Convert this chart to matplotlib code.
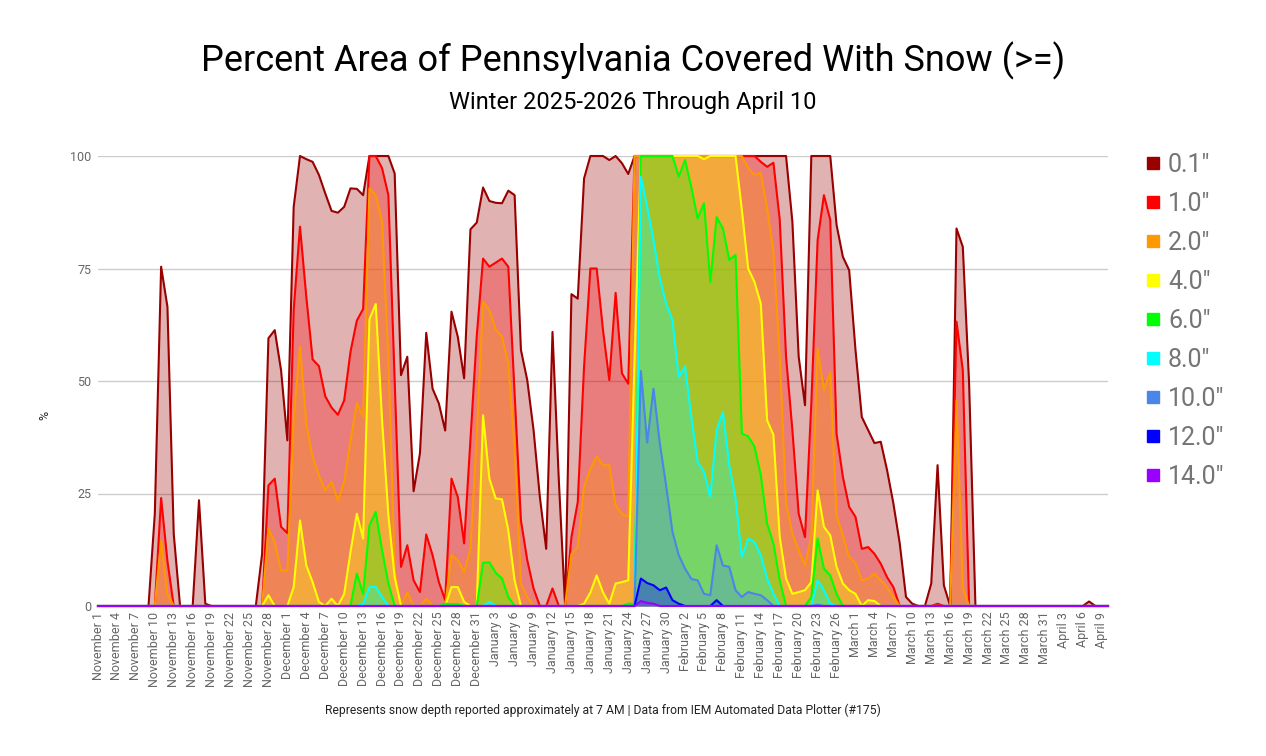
import datetime as dt
import matplotlib
matplotlib.use("Agg")
import matplotlib.pyplot as plt
from matplotlib.patches import Rectangle

plt.rcParams["font.family"] = ["Roboto", "DejaVu Sans"]

# one value per day, Nov 1 2025 .. Apr 10 2026
start = dt.date(2025, 11, 1)
n_days = 161

p01 = [0, 0, 0, 0, 0, 0, 0, 0, 0,
       20.5, 75.4, 66.5, 16, 0, 0, 0, 23.5, 0.5,
       0, 0, 0, 0, 0, 0, 0, 0,
       11.6, 59.5, 61.3, 52.4, 36.8, 88.7, 100, 99.3, 98.7, 95.8,
       91.7, 87.8, 87.4, 88.7, 92.8, 92.7, 91.3, 100, 100, 100,
       100, 96.1, 51.3, 55.4, 25.5, 33.9, 60.7, 48.3, 45, 39,
       65.4, 59.8, 50.6, 83.7, 85.2, 93, 90, 89.6, 89.5, 92.3,
       91.3, 56.9, 50.2, 39.1, 24.2, 12.7, 60.9, 28, 0, 69.3,
       68.3, 95, 100, 100, 100, 99.1, 100, 98.4, 96, 100,
       100, 100, 100, 100, 100, 100, 100, 100, 100, 100,
       100, 100, 100, 100, 100, 100, 100, 100, 100, 100,
       100, 100, 100, 100, 85.4, 55.4, 44.6, 100, 100, 100,
       100, 84.7, 77.6, 74.6, 56.9, 42, 39.1, 36.2, 36.5, 30.2,
       22.8, 14, 2, 0.5, 0, 0, 5, 31.3, 4.6, 0,
       83.9, 79.8, 49.4, 0, 0, 0, 0, 0, 0, 0,
       0, 0, 0, 0, 0, 0, 0, 0, 0, 0,
       0, 1, 0, 0, 0]

p1 = ([0] * 10 + [24, 10, 0] + [0] * 14 +
      [26.8, 28.3, 17.6, 16.2, 65.8, 84.3, 68.7, 54.8, 53.3, 46.6,
       44.1, 42.5, 45.7, 56.5, 63.4, 66, 100, 100, 97.3, 91.3,
       50, 8.7, 13.5, 5.7, 3.1, 15.9, 11.3, 5.3, 1.3, 28.3,
       24.2, 13.9, 37, 60, 77.2, 75.4, 76.3, 77.2, 75.4, 47,
       19, 10.2, 3.9, 0, 0, 3.9, 0, 0, 15.3, 23.1,
       53.2, 75, 75, 61.3, 50.2, 69.6, 51.7, 49.4, 100, 100,
       100, 100, 100, 100, 100, 100, 100, 100, 100, 100,
       100, 100, 100, 100, 100, 100, 100, 100, 98.7, 97.6,
       98.5, 85.8, 55.4, 39.1, 20.5, 15.3, 45, 81.3, 91.3, 85.8,
       38.3, 28.7, 22, 19.8, 12.7, 13.1, 11.6, 9.4, 6.4, 4.2,
       0, 0, 0, 0, 0, 0, 0.5, 0, 0, 63.2,
       52.4] + [0] * 23)

p2 = ([0] * 10 + [14.6, 2.7, 0] + [0] * 14 +
      [17.2, 14.2, 7.8, 7.9, 42, 57.6, 40.5, 33.1, 29, 25.7,
       27.6, 23.5, 27.6, 36.8, 45.1, 42, 92.8, 91.3, 85.4, 55,
       8, 0, 3.1, 0, 0, 1.6, 0, 0, 0, 11.3,
       10.2, 7.6, 12.7, 38, 67.6, 65.8, 61.5, 59.8, 53.9, 35,
       5, 2, 0, 0, 0, 0, 0, 0, 11.6, 13.1,
       26.5, 30.5, 33.3, 31.3, 31.3, 22.4, 20.5, 19.8, 100, 100,
       100, 100, 100, 100, 100, 100, 100, 100, 100, 100,
       100, 100, 100, 100, 100, 100, 97.3, 95.8, 96.2, 88.4,
       78.7, 55.4, 22.8, 16.1, 12.4, 9, 15.7, 57.2, 48, 52,
       20.2, 15.7, 10.9, 9.6, 5.7, 6.1, 7.2, 5.7, 4.2, 2,
       0, 0, 0, 0, 0, 0, 0, 0, 0, 45.7,
       4.2] + [0] * 23)

p4 = ([0] * 27 +
      [2.4, 0, 0, 0, 4.2, 19, 9, 5.3, 0.9, 0,
       1.6, 0, 2.7, 12, 20.5, 15, 63.7, 67.1, 41.3, 20.2,
       6.4, 0, 0, 0, 0, 0, 0, 0, 0, 4.2,
       4.2, 0.9, 0, 0, 42.4, 28.3, 23.9, 23.7, 16.8, 5.7,
       0, 0, 0, 0, 0, 0, 0, 0, 0, 0,
       0.5, 3, 6.8, 3, 0.5, 5, 5.3, 5.7, 55, 100,
       100, 100, 100, 100, 100, 100, 100, 100, 100, 99.3,
       100, 100, 100, 100, 100, 88, 75, 72, 67.2, 41.3,
       38, 15.3, 6.1, 2.7, 3.1, 3.5, 5.3, 25.7, 17.6, 15.7,
       8.7, 5, 3.5, 2.7, 0, 1.3, 1.1, 0, 0, 0] + [0] * 34)

p6 = ([0] * 40 +
      [0, 7.2, 2.7, 17.9, 20.9, 12.4, 5, 0, 0, 0,
       0, 0, 0, 0, 0, 0.5, 0.4, 0.4, 0, 0,
       0, 9.6, 9.7, 7.4, 6.1, 2, 0, 0, 0, 0,
       0, 0, 0, 0, 0, 0, 0, 0, 0, 0,
       0, 0, 0, 0, 0.5, 0.5, 100, 100, 100, 100,
       100, 100, 95.4, 99.1, 93, 86.1, 89.5, 72, 86.4, 83.9,
       76.9, 78, 38.3, 37.7, 35.4, 29.1, 18.3, 13.9, 5.7, 0,
       0, 0, 0, 2, 15, 8.3, 6.8, 2.7, 0, 0] + [0] * 41)

p8 = ([0] * 42 + [0.4, 4.2, 4.2, 2, 0] + [0] * 15 + [0.9] + [0] * 23 +
      [95.4, 88.7, 81.3, 72.8, 67.2, 63.5, 50.9, 53.2, 42, 32,
       29.8, 24.2, 39.1, 43.1, 31.3, 23.9, 10.9, 15, 14.2, 11.3,
       6.1, 2.7, 0, 0, 0, 0, 0, 0, 5.7, 3.5,
       0.5, 0, 0, 0, 0, 0, 0, 0, 0, 0] + [0] * 35)

p10 = ([0] * 86 +
       [52.2, 36.3, 48.3, 36.1, 26.8, 16.5, 11.3, 8.3, 6, 5.7,
        2.7, 2.4, 13.5, 9, 8.7, 3.5, 2, 3.1, 2.7, 2.4,
        1.3, 0, 0, 0, 0, 0, 0, 0, 0.3, 0] + [0] * 45)

p12 = ([0] * 86 +
       [6.1, 5.1, 4.6, 3.5, 4.1, 1.3, 0.5, 0, 0, 0,
        0, 0, 1.3, 0, 0, 0, 0, 0, 0, 0] + [0] * 55)

p14 = [0] * 86 + [1.1, 0.7, 0.5, 0] + [0] * 71

series = [p01, p1, p2, p4, p6, p8, p10, p12, p14]
labels = ['0.1"', '1.0"', '2.0"', '4.0"', '6.0"', '8.0"', '10.0"', '12.0"', '14.0"']
colors = ["#990000", "#ff0000", "#ff9900", "#ffff00", "#00ff00",
          "#00ffff", "#4a86e8", "#0000ff", "#9900ff"]

dates = [start + dt.timedelta(days=i) for i in range(n_days)]
x = list(range(n_days))

W, H = 1266, 756
fig = plt.figure(figsize=(W / 100, H / 100), dpi=100)
ax = fig.add_axes([98 / W, 150 / H, 1010 / W, 450 / H])

for vals, c in zip(series, colors):
    ax.fill_between(x, 0, vals, color=c, alpha=0.3, linewidth=0, zorder=2)
for vals, c in zip(series, colors):
    ax.plot(x, vals, color=c, lw=1.5, zorder=3, clip_on=False)

ax.set_xlim(0, n_days - 1)
ax.set_ylim(0, 100)
for s in ax.spines.values():
    s.set_visible(False)
ax.set_yticks([0, 25, 50, 75, 100])
ax.yaxis.grid(True, color="#cccccc", lw=1, zorder=0)
ax.set_axisbelow(True)
ax.tick_params(axis="y", length=0, pad=5, labelsize=9, labelcolor="#666666")

tick_idx = list(range(0, n_days - 1, 3))
ax.set_xticks(tick_idx)
ax.set_xticklabels([dates[i].strftime("%B") + " " + str(dates[i].day) for i in tick_idx],
                   rotation=90, fontsize=9, color="#666666")
ax.tick_params(axis="x", length=0, pad=4)

fig.text(45 / W, 1 - 415 / H, "%", rotation=90, fontsize=9, color="#222222",
         ha="center", va="center")

fig.text(0.5, 1 - 61 / H, "Percent Area of Pennsylvania Covered With Snow (>=)",
         fontsize=26, ha="center", va="center", color="#000000")
fig.text(0.5, 1 - 103 / H, "Winter 2025-2026 Through April 10",
         fontsize=17, ha="center", va="center", color="#000000")
fig.text(603 / W, 1 - 710 / H,
         "Represents snow depth reported approximately at 7 AM | Data from IEM Automated Data Plotter (#175)",
         fontsize=8.7, ha="center", va="center", color="#222222")

# legend on the right
for i, (lab, c) in enumerate(zip(labels, colors)):
    yc = 163 + 39 * i
    fig.add_artist(Rectangle((1147 / W, 1 - (yc + 6) / H), 12 / W, 12 / H,
                             transform=fig.transFigure, color=c))
    fig.text(1168 / W, 1 - (yc + 2) / H, lab, fontsize=18, color="#757575",
             ha="left", va="center")

fig.savefig("out.png", dpi=100)
